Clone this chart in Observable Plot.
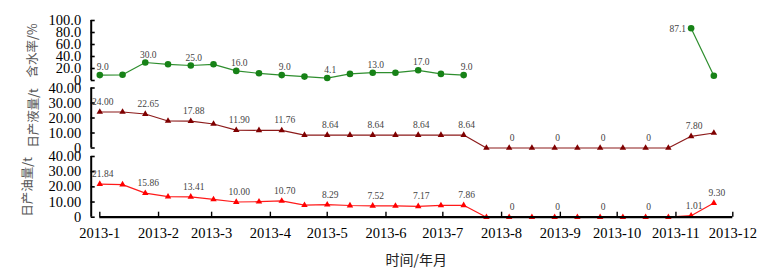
<!DOCTYPE html>
<html>
<head>
<meta charset="utf-8">
<script src="https://cdn.jsdelivr.net/npm/d3@7"></script>
<script src="https://cdn.jsdelivr.net/npm/@observablehq/plot@0.6"></script>
<style>
  body { margin: 0; background: #fff; }
  #chart { position: relative; width: 773px; height: 270px; overflow: hidden; }
  #chart svg { position: absolute; left: 0; top: 0; }
</style>
</head>
<body>
<div id="chart"></div>
<script>
// ---- data ----
const monthLabels = ["2013-1","2013-2","2013-3","2013-4","2013-5","2013-6","2013-7","2013-8","2013-9","2013-10","2013-11","2013-12"];
const pointDates = ["2013-01-01","2013-01-13","2013-01-25","2013-02-06","2013-02-18","2013-03-02","2013-03-14","2013-03-26",
  "2013-04-07","2013-04-19","2013-05-01","2013-05-13","2013-05-25","2013-06-06","2013-06-18","2013-06-30","2013-07-12",
  "2013-07-24","2013-08-05","2013-08-17","2013-08-29","2013-09-10","2013-09-22","2013-10-04","2013-10-16","2013-10-28",
  "2013-11-09","2013-11-21"];
// 含水率 / %
const waterCut = [9.0, 9.5, 30.0, 27, 25.0, 27, 16.0, 12, 9.0, 6.5, 4.1, 11, 13.0, 13, 17.0, 11, 9.0,
  null, null, null, null, null, null, null, null, null, 87.1, 8];
// 日产液量 / t
const liquid = [24.00, 24, 22.65, 18, 17.88, 16, 11.90, 11.8, 11.76, 8.64, 8.64, 8.64, 8.64, 8.64, 8.64, 8.64, 8.64,
  0, 0, 0, 0, 0, 0, 0, 0, 0, 7.80, 10];
// 日产油量 / t
const oil = [21.84, 21.5, 15.86, 13.5, 13.41, 11.7, 10.00, 10.2, 10.70, 7.9, 8.29, 7.7, 7.52, 7.4, 7.17, 7.8, 7.86,
  0, 0, 0, 0, 0, 0, 0, 0, 0, 1.01, 9.30];
// indices of labelled points
const waterCutLabelIdx = [0, 2, 4, 6, 8, 10, 12, 14, 16];
const waterCutLeftLabelIdx = [26];
const liquidLabelIdx = [0, 2, 4, 6, 8, 10, 12, 14, 16, 18, 20, 22, 24, 26];
const oilLabelIdx = [0, 2, 4, 6, 8, 10, 12, 14, 16, 18, 20, 22, 24, 26, 27];
const waterTicks = [0, 20, 40, 60, 80, 100];
const liquidTicks = [0, 10, 20, 30, 40];
const oilTicks = [0, 10, 20, 30, 40];

// ---- build ----
const parseMonth = d3.utcParse("%Y-%m");
const months = monthLabels.map(parseMonth);
const dates = pointDates.map(d3.utcParse("%Y-%m-%d"));
const rows = vals => vals.map((v, i) => ({date: dates[i], v, i}));
const pick = (vals, idx) => idx.map(i => ({date: dates[i], v: vals[i]}));

const W = 773, H = 270;
const serif = "'Liberation Serif', 'DejaVu Serif', serif";
const cjk = "'Noto Sans CJK SC', sans-serif";
const AXDX = -8.6;

function panel({vals, labelIdx, leftIdx = [], color, symbol, r, yDomain, yTicks, dec, mt, mb, title, titleDx, lblDy, xAxis}) {
  const fmt = v => v === 0 ? "0" : v.toFixed(dec);
  const data = rows(vals);
  const marks = [
    Plot.ruleX([months[0]], {dx: AXDX, stroke: "#000", strokeWidth: 2}),
    Plot.axisY({ticks: yTicks, tickFormat: fmt, tickSize: -4, tickPadding: 14, dx: AXDX,
      strokeWidth: 1.6, fontSize: 14.5, fontFamily: serif, fill: "#000", label: null}),
    Plot.line(data, {x: "date", y: "v", stroke: color, strokeWidth: 1.2, strokeOpacity: 0.9}),
    Plot.dot(data, {x: "date", y: "v", fill: color, stroke: "none", r, symbol}),
    Plot.text(pick(vals, labelIdx), {x: "date", y: "v", text: d => fmt(d.v), dy: lblDy, dx: 3,
      fontSize: 9.5, fontFamily: serif, fill: "#444"}),
    Plot.text(pick(vals, leftIdx), {x: "date", y: "v", text: d => fmt(d.v), dx: -5, dy: 1, textAnchor: "end",
      fontSize: 9.5, fontFamily: serif, fill: "#444"}),
    Plot.text([title], {frameAnchor: "left", dx: titleDx, rotate: -90, textAnchor: "middle", lineAnchor: "middle",
      fontSize: 12.5, fontFamily: cjk, fill: "#555"})
  ];
  if (xAxis) {
    marks.push(
      Plot.ruleY([0], {stroke: "#000", strokeWidth: 2.2}),
      Plot.axisX({ticks: months, tickFormat: d3.utcFormat("%Y-%-m"), tickSize: -5, tickPadding: 16,
        strokeWidth: 1.4, fontSize: 14.5, fontFamily: serif, fill: "#000", label: null}),
      Plot.text(["时间/年月"], {frameAnchor: "bottom", dy: 43, lineAnchor: "middle", fontSize: 14, fontFamily: cjk, fill: "#222"})
    );
  }
  return Plot.plot({
    width: W, height: H,
    marginLeft: 99.3, marginRight: 40.7, marginTop: mt, marginBottom: mb,
    style: {background: "transparent", overflow: "visible"},
    x: {type: "utc", domain: [months[0], months[months.length - 1]], axis: null},
    y: {domain: yDomain, axis: null},
    marks
  });
}

const chart = document.getElementById("chart");
chart.append(panel({vals: waterCut, labelIdx: waterCutLabelIdx, leftIdx: waterCutLeftLabelIdx, color: "#178217",
  symbol: "circle", r: 3.3, yDomain: [0, 100], yTicks: waterTicks, dec: 1, mt: 20, mb: H - 80,
  title: "含水率/%", titleDx: -67.3, lblDy: -8}));
chart.append(panel({vals: liquid, labelIdx: liquidLabelIdx, color: "#7f0000",
  symbol: "triangle", r: 2.4, yDomain: [0, 40], yTicks: liquidTicks, dec: 2, mt: 87.5, mb: H - 147.5,
  title: "日产液量/t", titleDx: -66.3, lblDy: -10}));
chart.append(panel({vals: oil, labelIdx: oilLabelIdx, color: "#ff0000",
  symbol: "triangle", r: 2.4, yDomain: [0, 40], yTicks: oilTicks, dec: 2, mt: 156, mb: H - 216.7,
  title: "日产油量/t", titleDx: -72, lblDy: -10, xAxis: true}));
</script>
</body>
</html>
